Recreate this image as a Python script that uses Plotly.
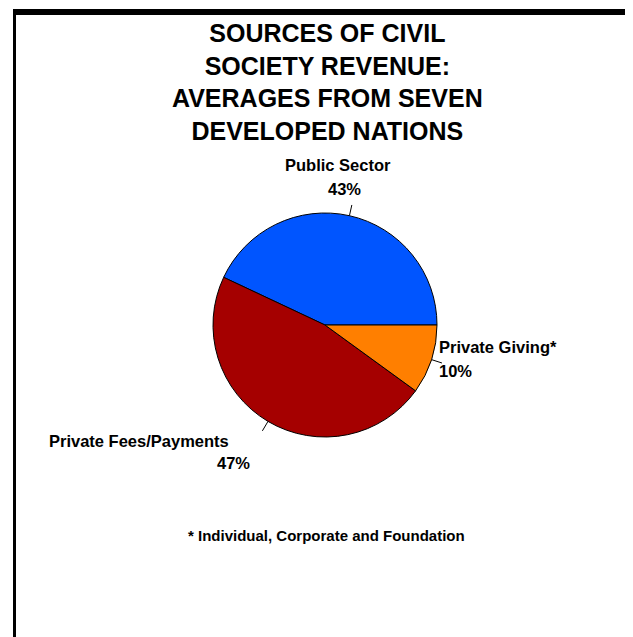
import math
import plotly.graph_objects as go

# ---- data ----
categories = ["Public Sector", "Private Fees/Payments", "Private Giving*"]
values = [43, 47, 10]
pct_labels = ["43%", "47%", "10%"]
colors = ["#0055FF", "#A50000", "#FF7F00"]

title_lines = ["SOURCES OF CIVIL", "SOCIETY REVENUE:", "AVERAGES FROM SEVEN", "DEVELOPED NATIONS"]
footnote = "* Individual, Corporate and Foundation"

# page body has an 8px default margin; work in screen pixels and convert
OFF = 8
W, H = 625, 629
cx, cy, R = 325, 325, 112  # pie center / radius in screen pixels

def px(x):
    return (x - OFF) / W

def py(y):
    return 1 - (y - OFF) / H

FONT = "Liberation Sans, Arial, sans-serif"

total = sum(values)
# first slice starts at 3 o'clock and runs counterclockwise
rotation = 90 - values[0] / total * 360

fig = go.Figure()
fig.add_trace(go.Pie(
    labels=categories,
    values=values,
    sort=False,
    direction="counterclockwise",
    rotation=rotation,
    marker=dict(colors=colors, line=dict(color="black", width=1)),
    textinfo="none",
    hoverinfo="label+percent",
    showlegend=False,
    domain=dict(x=[px(cx - R), px(cx + R)], y=[py(cy + R), py(cy - R)]),
))

shapes = []
# frame (left + top bars)
shapes.append(dict(type="rect", xref="paper", yref="paper",
                   x0=px(13), x1=1, y0=py(15), y1=py(9),
                   fillcolor="black", line=dict(width=0)))
shapes.append(dict(type="rect", xref="paper", yref="paper",
                   x0=px(13), x1=px(16), y0=0, y1=py(9),
                   fillcolor="black", line=dict(width=0)))

# leader ticks at slice mid-angles (computed from data)
cum = 0
for v in values:
    mid = (cum + v / 2) / total * 2 * math.pi  # from east, counterclockwise
    cum += v
    x0 = cx + R * math.cos(mid)
    y0 = cy - R * math.sin(mid)
    x1 = cx + (R + 11) * math.cos(mid)
    y1 = cy - (R + 11) * math.sin(mid)
    shapes.append(dict(type="line", xref="paper", yref="paper",
                       x0=px(x0), y0=py(y0), x1=px(x1), y1=py(y1),
                       line=dict(color="black", width=1)))

annotations = []
annotations.append(dict(
    text="<br>".join(f"<b>{t}</b>" for t in title_lines),
    x=px(327), y=py(82), xref="paper", yref="paper",
    xanchor="center", yanchor="middle", showarrow=False,
    font=dict(family=FONT, size=25, color="black"), align="center"))

label_pos = [
    # (name x, name y(center), pct x, pct y, anchor)
    (338, 165, 344, 189, "center"),
    (139, 441, 234, 463, "center"),
    (437, 347, 437, 371, "left"),
]
for (nx, ny, qx, qy, anc), name, pct in zip(label_pos, categories, pct_labels):
    annotations.append(dict(text=f"<b>{name}</b>", x=px(nx), y=py(ny),
                            xref="paper", yref="paper", xanchor=anc, yanchor="middle",
                            showarrow=False, font=dict(family=FONT, size=16.5, color="black")))
    annotations.append(dict(text=f"<b>{pct}</b>", x=px(qx), y=py(qy),
                            xref="paper", yref="paper", xanchor=anc, yanchor="middle",
                            showarrow=False, font=dict(family=FONT, size=16.5, color="black")))

annotations.append(dict(text=f"<b>{footnote}</b>", x=px(326), y=py(535),
                        xref="paper", yref="paper", xanchor="center", yanchor="middle",
                        showarrow=False, font=dict(family=FONT, size=15, color="black")))

fig.update_layout(
    width=W, height=H,
    margin=dict(l=0, r=0, t=0, b=0),
    paper_bgcolor="white", plot_bgcolor="white",
    shapes=shapes, annotations=annotations,
)

fig.write_html("out.html")
